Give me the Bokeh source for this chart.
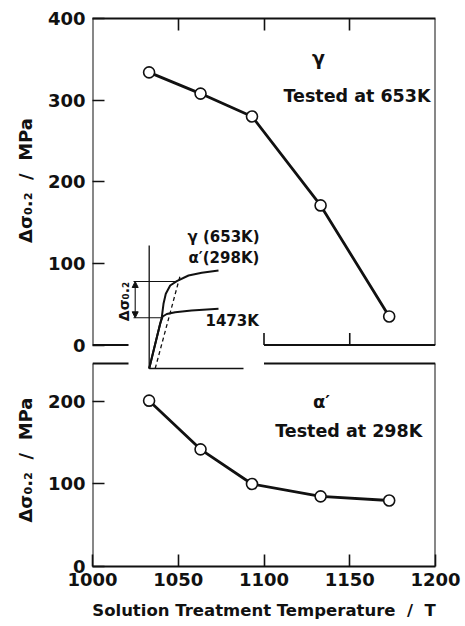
import math
from bokeh.plotting import figure
from bokeh.models import (Range1d, LinearAxis, FixedTicker, CustomJSTickFormatter,
                          Label, Arrow, NormalHead)
from bokeh.core.properties import value
from bokeh.embed import file_html
from bokeh.resources import INLINE

# ---------------- data ----------------
TEMPS = [1033, 1063, 1093, 1133, 1173]          # solution treatment temperature / K
GAMMA_653K = [334, 308, 280, 171, 35]          # delta sigma 0.2, gamma, tested at 653 K
ALPHA_298K = [201, 142, 100, 85, 80]           # delta sigma 0.2, alpha', tested at 298 K

X_TICKS = [1000, 1050, 1100, 1150, 1200]
X_INNER_TICKS = [1050, 1100, 1150]
TOP_Y_TICKS = [0, 100, 200, 300, 400]
LOW_Y_TICKS = [0, 100, 200]

X_LIM = (1000, 1200)
TOP_LIM = (0, 400)
LOW_LIM = (0, 246)
GAP = (1021, 1100)        # break in the inner panel edges (room for the inset)

# inset: schematic stress-strain curves (arbitrary units)
INS_UP_STRAIN = [0, 1.26, 1.43, 1.66, 2.1, 2.76, 3.93, 5.26, 6.93]
INS_UP_STRESS = [0, 5.13, 6.47, 7.47, 8.3, 8.73, 9.3, 9.57, 9.8]
INS_LOW_STRAIN = [0, 1.1, 1.35, 1.76, 2.6, 4.23, 6.93]
INS_LOW_STRESS = [0, 4.5, 5.2, 5.45, 5.63, 5.8, 5.97]
INS_OFFSET_STRAIN = [0.6, 3.1]
INS_OFFSET_STRESS = [0, 9.3]
INS_AXIS_STRAIN_MAX = 9.43
INS_AXIS_STRESS_MAX = 12.3
INS_LEVEL_HIGH = 8.7
INS_LEVEL_LOW = 5.07

FONT = "DejaVu Sans"
INK = "#111111"
NB = "\u00a0"
Y_TITLE = f"Δσ₀.₂{NB}{NB}/{NB}{NB}MPa"
X_TITLE = f"Solution Treatment Temperature{NB}{NB}/{NB}{NB}T"

# ---------------- ranges ----------------
TOP_RANGE = (-271.36, 400)
LOW_RANGE = (0, 664.24)
INS_X_RANGE = (-5.67, 28.63)
INS_Y_RANGE = (-19.8, 35.0)

p = figure(frame_width=343, frame_height=548,
           min_border_left=92, min_border_right=30,
           min_border_top=18, min_border_bottom=60,
           x_range=Range1d(*X_LIM), y_range=Range1d(*TOP_RANGE),
           x_axis_location=None, y_axis_location=None,
           output_backend="svg", toolbar_location=None)
p.extra_y_ranges = {"low": Range1d(*LOW_RANGE), "iy": Range1d(*INS_Y_RANGE)}
p.extra_x_ranges = {"ix": Range1d(*INS_X_RANGE)}
p.outline_line_color = None
p.background_fill_color = "white"
p.border_fill_color = "white"
p.grid.grid_line_color = None

def style_axis(ax):
    ax.major_tick_in = 12
    ax.major_tick_out = 0
    ax.minor_tick_line_color = None
    ax.major_tick_line_width = 1.6
    ax.major_tick_line_color = INK
    ax.axis_line_width = 2
    ax.axis_line_color = INK
    ax.major_label_text_font = FONT
    ax.major_label_text_font_style = "bold"
    ax.major_label_text_color = INK

below = LinearAxis(ticker=FixedTicker(ticks=X_TICKS), axis_label=X_TITLE)
style_axis(below)
below.major_label_text_font_size = "18px"
below.major_label_standoff = 6
below.axis_label_text_font = FONT
below.axis_label_text_font_style = "bold"
below.axis_label_text_font_size = "16.5px"
below.axis_label_text_color = INK
below.axis_label_standoff = 12
p.add_layout(below, "below")

above = LinearAxis(ticker=FixedTicker(ticks=X_INNER_TICKS),
                   formatter=CustomJSTickFormatter(code='return ""'))
style_axis(above)
above.major_label_standoff = 0
p.add_layout(above, "above")

# one left axis carrying the ticks of both panels
def low_to_top(v):
    f = (v - LOW_RANGE[0]) / (LOW_RANGE[1] - LOW_RANGE[0])
    return TOP_RANGE[0] + f * (TOP_RANGE[1] - TOP_RANGE[0])

left_ticks = TOP_Y_TICKS + [low_to_top(v) for v in LOW_Y_TICKS]
left = LinearAxis(ticker=FixedTicker(ticks=left_ticks),
                  formatter=CustomJSTickFormatter(
                      args=dict(ts=TOP_RANGE[0], te=TOP_RANGE[1],
                                ls=LOW_RANGE[0], le=LOW_RANGE[1]),
                      code="""
if (tick > -1) { return tick.toFixed(0); }
const f = (tick - ts) / (te - ts);
return (ls + f * (le - ls)).toFixed(0);
"""))
style_axis(left)
left.axis_line_color = None
left.major_label_text_font_size = "18px"
left.major_label_standoff = 7
p.add_layout(left, "left")

# y axis titles (in the left side panel, so they are not clipped to the frame)
for yv, rng in ((201.5, "default"), (129, "low")):
    p.add_layout(Label(x=25, x_units="canvas", y=yv, y_range_name=rng,
                       text=Y_TITLE, angle=math.pi / 2,
                       text_align="center", text_baseline="middle",
                       text_font=FONT, text_font_style="bold",
                       text_font_size="18px", text_color=INK), "left")

# ---------------- panel edges ----------------
edge = dict(line_color=INK, line_width=2)
p.segment(x0=[X_LIM[0], X_LIM[1], X_LIM[0], GAP[1]],
          y0=[TOP_LIM[0], TOP_LIM[0], TOP_LIM[0], TOP_LIM[0]],
          x1=[X_LIM[0], X_LIM[1], GAP[0], X_LIM[1]],
          y1=[TOP_LIM[1], TOP_LIM[1], TOP_LIM[0], TOP_LIM[0]], **edge)
p.segment(x0=[X_LIM[0], X_LIM[1], X_LIM[0], GAP[1]],
          y0=[LOW_LIM[0], LOW_LIM[0], LOW_LIM[1], LOW_LIM[1]],
          x1=[X_LIM[0], X_LIM[1], GAP[0], X_LIM[1]],
          y1=[LOW_LIM[1], LOW_LIM[1], LOW_LIM[1], LOW_LIM[1]],
          y_range_name="low", **edge)
inner = [t for t in X_INNER_TICKS if t >= GAP[1]]
p.ray(x=inner, y=[TOP_LIM[0]] * len(inner), length=12, length_units="screen",
      angle=math.pi / 2, line_color=INK, line_width=1.6)

# ---------------- data series ----------------
p.line(TEMPS, GAMMA_653K, line_color=INK, line_width=2.8)
p.scatter(TEMPS, GAMMA_653K, marker="circle", size=11, fill_color="white",
          line_color=INK, line_width=1.6)
p.line(TEMPS, ALPHA_298K, line_color=INK, line_width=2.8, y_range_name="low")
p.scatter(TEMPS, ALPHA_298K, marker="circle", size=11, fill_color="white",
          line_color=INK, line_width=1.6, y_range_name="low")

txt = dict(text_font=value(FONT), text_font_style="bold", text_color=INK,
           text_baseline="middle")
p.text(x=[1131.8], y=[351], text=["γ"], text_align="center", text_font_size="19px", **txt)
p.text(x=[1154.2], y=[305.6], text=["Tested at 653K"], text_align="center",
       text_font_size="17.5px", **txt)
p.text(x=[1133.5], y=[200.4], text=["α′"], text_align="center", text_font_size="18px",
       y_range_name="low", **txt)
p.text(x=[1149.4], y=[164], text=["Tested at 298K"], text_align="center",
       text_font_size="17.5px", y_range_name="low", **txt)

# ---------------- inset ----------------
ins = dict(x_range_name="ix", y_range_name="iy")
p.line([0, 0], [0, INS_AXIS_STRESS_MAX], line_color=INK, line_width=1.3, **ins)
p.line([0, INS_AXIS_STRAIN_MAX], [0, 0], line_color=INK, line_width=1.6, **ins)
p.line(INS_UP_STRAIN, INS_UP_STRESS, line_color=INK, line_width=2, **ins)
p.line(INS_LOW_STRAIN, INS_LOW_STRESS, line_color=INK, line_width=2, **ins)
p.line(INS_OFFSET_STRAIN, INS_OFFSET_STRESS, line_color=INK, line_width=1.3,
       line_dash="4 3", **ins)
p.segment(x0=[-1.57, -1.57], y0=[INS_LEVEL_HIGH, INS_LEVEL_LOW],
          x1=[2.76, 1.35], y1=[INS_LEVEL_HIGH, INS_LEVEL_LOW],
          line_color=INK, line_width=1.1, **ins)
p.add_layout(Arrow(start=NormalHead(size=6, fill_color=INK, line_color=INK),
                   end=NormalHead(size=6, fill_color=INK, line_color=INK),
                   x_start=-1.4, y_start=INS_LEVEL_LOW, x_end=-1.4, y_end=INS_LEVEL_HIGH,
                   line_color=INK, line_width=1.1, **ins))
p.text(x=[3.83, 3.93, 5.63], y=[13.2, 11.1, 4.8],
       text=["γ (653K)", "α′(298K)", "1473K"], text_align="left",
       text_font_size="15px", **ins, **txt)
p.text(x=[-2.57], y=[6.7], text=["Δσ₀.₂"], angle=math.pi / 2, text_align="center",
       text_font_size="14px", **ins, **txt)

open("out.html", "w").write(file_html(p, INLINE))
